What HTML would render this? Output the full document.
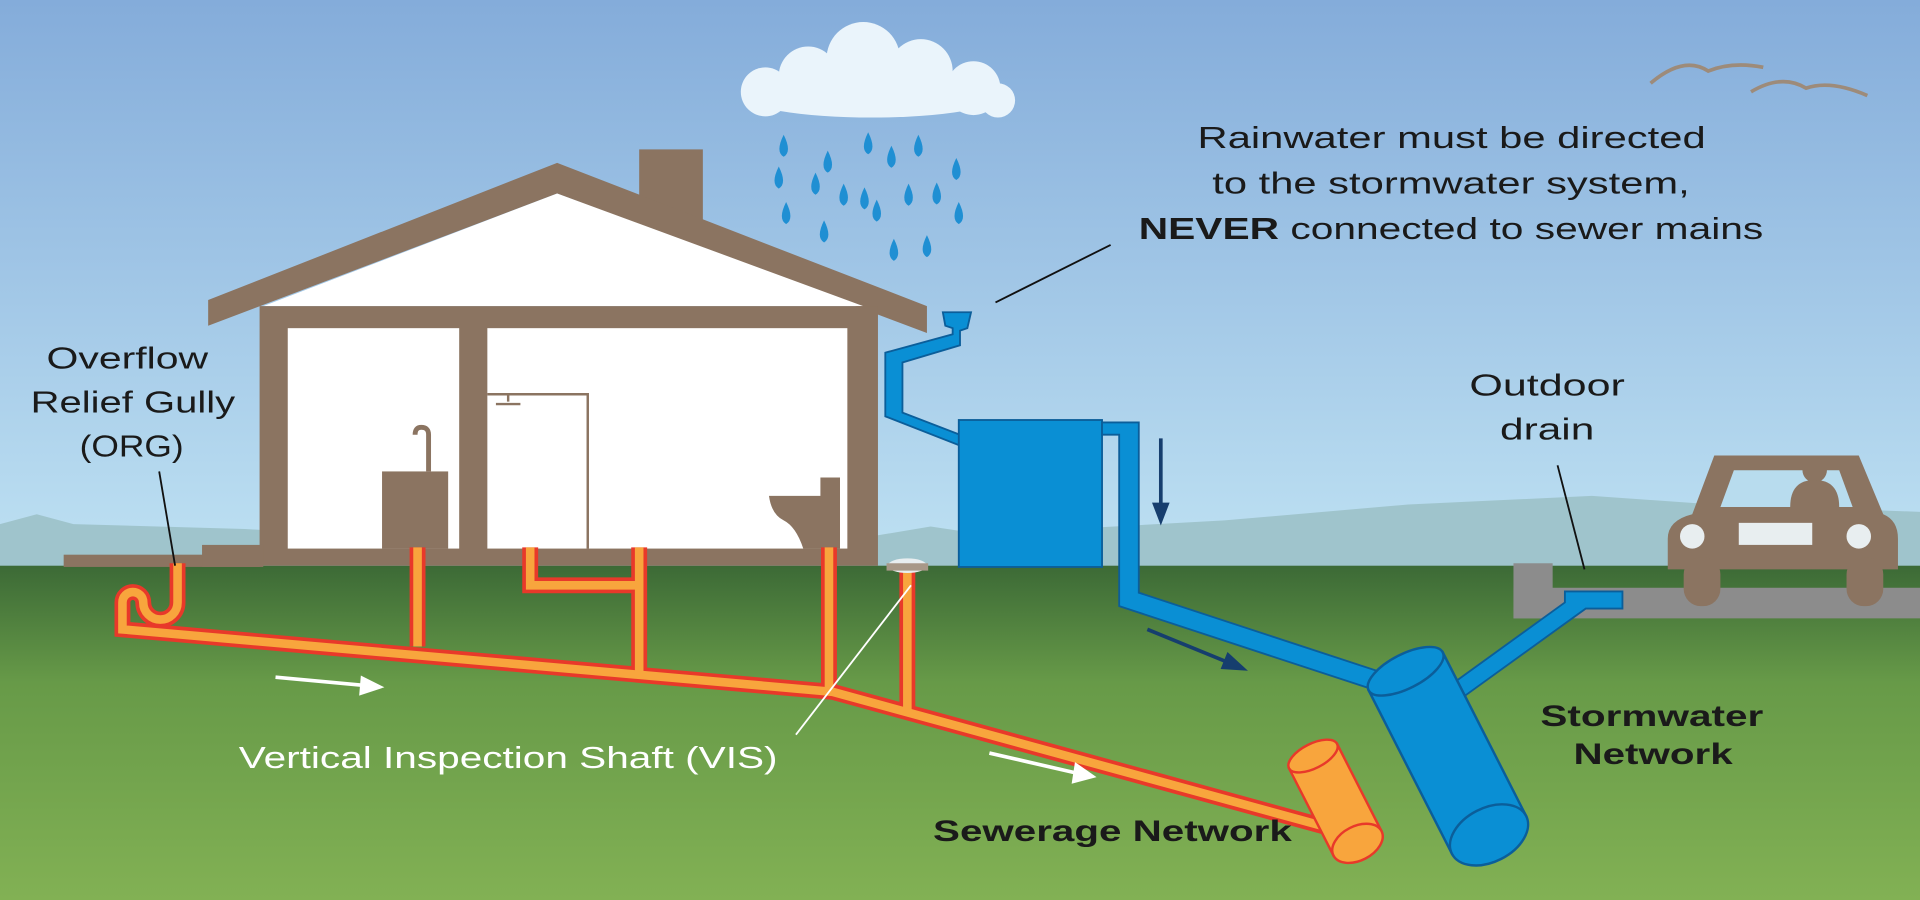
<!DOCTYPE html>
<html><head><meta charset="utf-8"><style>
html,body{margin:0;padding:0;width:1920px;height:900px;overflow:hidden}
svg{display:block}
text{font-family:"Liberation Sans",sans-serif}
</style></head><body>
<svg width="1920" height="900" viewBox="0 0 1568 735" preserveAspectRatio="none" xmlns="http://www.w3.org/2000/svg">
<defs>
<linearGradient id="sky" x1="0" y1="0" x2="0" y2="1"><stop offset="0" stop-color="#84acda"/><stop offset="1" stop-color="#bfe2f3"/></linearGradient>
<linearGradient id="grass" x1="0" y1="0" x2="0" y2="1"><stop offset="0" stop-color="#3c6a36"/><stop offset="0.35" stop-color="#679a48"/><stop offset="1" stop-color="#82b154"/></linearGradient>
</defs>
<rect width="1568" height="470" fill="url(#sky)"/>
<path d="M0 428 L30 420 L60 428 L200 432 L300 438 L700 440 L760 430 L800 436 L1000 425 L1150 412 L1300 405 L1400 412 L1568 418 L1568 470 L0 470Z" fill="#9fc4cc"/>
<rect y="462" width="1568" height="273" fill="url(#grass)"/>
<rect x="1236" y="480" width="332" height="25" fill="#8c8c8c"/>
<rect x="1236" y="460" width="32" height="45" fill="#8c8c8c"/>
<g fill="#eaf4fb"><ellipse cx="712" cy="78" rx="105" ry="18"/><circle cx="625" cy="75" r="20"/><circle cx="660" cy="62" r="24"/><circle cx="705" cy="48" r="30"/><circle cx="752" cy="58" r="26"/><circle cx="795" cy="72" r="22"/><circle cx="815" cy="82" r="14"/></g>
<g fill="#1f8fd3">
<path d="M640 217 q-7 14 0 18 q7 -4 0 -18z" transform="translate(0,-107)"/>
<path d="M676 230 q-7 14 0 18 q7 -4 0 -18z" transform="translate(0,-107)"/>
<path d="M709 215 q-7 14 0 18 q7 -4 0 -18z" transform="translate(0,-107)"/>
<path d="M750 217 q-7 14 0 18 q7 -4 0 -18z" transform="translate(0,-107)"/>
<path d="M781 236 q-7 14 0 18 q7 -4 0 -18z" transform="translate(0,-107)"/>
<path d="M636 270 q-7 14 0 18 q7 -4 0 -18z" transform="translate(0,-134)"/>
<path d="M666 275 q-7 14 0 18 q7 -4 0 -18z" transform="translate(0,-134)"/>
<path d="M728 253 q-7 14 0 18 q7 -4 0 -18z" transform="translate(0,-134)"/>
<path d="M765 283 q-7 14 0 18 q7 -4 0 -18z" transform="translate(0,-134)"/>
<path d="M706 287 q-7 14 0 18 q7 -4 0 -18z" transform="translate(0,-134)"/>
<path d="M689 150 q-7 14 0 18 q7 -4 0 -18z"/><path d="M742 150 q-7 14 0 18 q7 -4 0 -18z"/><path d="M642 165 q-7 14 0 18 q7 -4 0 -18z"/><path d="M716 163 q-7 14 0 18 q7 -4 0 -18z"/><path d="M783 165 q-7 14 0 18 q7 -4 0 -18z"/>
<path d="M673 180 q-7 14 0 18 q7 -4 0 -18z"/><path d="M730 195 q-7 14 0 18 q7 -4 0 -18z"/><path d="M757 192 q-7 14 0 18 q7 -4 0 -18z"/>
</g>
<g fill="none" stroke="#9d8b7a" stroke-width="3"><path d="M1348 68 Q1375 45 1395 58 Q1415 50 1440 55"/><path d="M1430 75 Q1455 60 1475 72 Q1495 65 1525 78"/></g>
<rect x="522" y="122" width="52" height="70" fill="#8b7461"/>
<path d="M455 133 L757 250 L757 272 L455 158 L170 266 L170 245Z" fill="#8b7461"/>
<path d="M455 158 L705 250 L215 250Z" fill="#fff"/>
<rect x="212" y="250" width="505" height="212" fill="#8b7461"/>
<rect x="235" y="268" width="140" height="180" fill="#fff"/>
<rect x="398" y="268" width="294" height="180" fill="#fff"/>
<rect x="52" y="453" width="160" height="10" fill="#8b7461"/>
<rect x="165" y="445" width="50" height="18" fill="#8b7461"/>
<rect x="312" y="385" width="54" height="63" fill="#8b7461"/>
<path d="M350 385 V355 q0 -6 -6 -6 q-5 0 -5 6" fill="none" stroke="#8b7461" stroke-width="4"/>
<path d="M398 322 H480 V448" fill="none" stroke="#8b7461" stroke-width="2"/>
<path d="M415 322 V328 M405 330 h20" stroke="#8b7461" stroke-width="2"/>
<path d="M628 405 H670 V390 H686 V448 H656 Q650 430 640 425 Q630 420 628 405Z" fill="#8b7461"/>
<g fill="#0a8fd4" stroke="#0b5e9a" stroke-width="1.5">
<path d="M770 255 H793 L790 268 L784 270 V282 L737 296 V337 L828 372 L820 378 L723 340 V288 L778 273 V268 L772 266Z"/>
<rect x="783" y="343" width="117" height="120"/>
<path d="M900 345 H930 V484 L1125 548 L1118 562 L914 495 V355 H900Z"/>
<path d="M1325 483 V497 H1295 L1180 580 L1170 570 L1278 492 V483Z"/>
</g>
<g transform="rotate(-27 1182 615)"><rect x="1148" y="540" width="68" height="150" fill="#0a8fd4" stroke="#0b5e9a" stroke-width="2"/><ellipse cx="1182" cy="540" rx="34" ry="14" fill="#0a8fd4" stroke="#0b5e9a" stroke-width="2"/><ellipse cx="1182" cy="690" rx="34" ry="22" fill="#0a8fd4" stroke="#0b5e9a" stroke-width="2"/></g>
<g fill="none" stroke-linejoin="miter">
<path d="M145 460 V492 A14 14 0 0 1 117 492 A8.5 8.5 0 0 0 100 492 V514 L680 565 L1100 680 M341 447 V528 M522 447 V548 M433 447 V478 H522 M677 447 V563 M741 466 V580" stroke="#e8392a" stroke-width="13"/>
<path d="M145 460 V492 A14 14 0 0 1 117 492 A8.5 8.5 0 0 0 100 492 V514 L680 565 L1100 680 M341 447 V528 M522 447 V548 M433 447 V478 H522 M677 447 V563 M741 466 V580" stroke="#f8a53d" stroke-width="7"/>
</g>
<g transform="rotate(-27 1095 662)"><rect x="1073" y="612" width="44" height="80" fill="#f8a53d" stroke="#e8392a" stroke-width="2"/><ellipse cx="1095" cy="612" rx="22" ry="10" fill="#f8a53d" stroke="#e8392a" stroke-width="2"/><ellipse cx="1095" cy="692" rx="22" ry="14" fill="#f8a53d" stroke="#e8392a" stroke-width="2"/></g>
<ellipse cx="741" cy="462" rx="16" ry="6" fill="#e8eef0"/><rect x="724" y="460" width="34" height="6" fill="#a89888"/>
<g fill="#8b7461">
<path d="M1382 420 L1400 372 H1518 L1538 420 Q1550 425 1550 440 V465 H1362 V440 Q1362 425 1382 420Z"/>
<rect x="1375" y="455" width="30" height="40" rx="14"/><rect x="1508" y="455" width="30" height="40" rx="14"/>
</g>
<path d="M1405 414 L1416 384 H1502 L1513 414Z" fill="#b8dcee"/>
<circle cx="1482" cy="384" r="10" fill="#8b7461"/><path d="M1462 414 q0 -22 20 -22 q20 0 20 22z" fill="#8b7461"/>
<circle cx="1382" cy="438" r="10" fill="#e8eef0"/><circle cx="1518" cy="438" r="10" fill="#e8eef0"/>
<rect x="1420" y="427" width="60" height="18" fill="#e8eef0"/>
<g stroke="#163e6e" stroke-width="3" fill="#163e6e">
<path d="M948 358 V418" fill="none"/><path d="M943 412 L948 425 L953 412Z"/>
<path d="M937 514 L1008 543" fill="none"/><path d="M1003 535 L1015 546 L999 545Z"/>
</g>
<g stroke="#fff" stroke-width="3" fill="#fff">
<path d="M225 553 L300 560" fill="none"/><path d="M296 554 L310 561 L295 566Z"/>
<path d="M808 615 L882 632" fill="none"/><path d="M879 625 L892 634 L877 638Z"/>
</g>
<g stroke="#111" stroke-width="1.5"><path d="M907 200 L813 247"/><path d="M130 385 L143 462"/><path d="M1272 380 L1294 465"/></g>
<path d="M744 478 L650 600" stroke="#fff" stroke-width="1.5"/>
<g font-size="25" fill="#1a1a1a" lengthAdjust="spacingAndGlyphs">
<text x="978" y="121" textLength="415" lengthAdjust="spacingAndGlyphs">Rainwater must be directed</text>
<text x="990" y="158" textLength="390" lengthAdjust="spacingAndGlyphs">to the stormwater system,</text>
<text x="930" y="195" textLength="510" lengthAdjust="spacingAndGlyphs"><tspan font-weight="bold">NEVER</tspan> connected to sewer mains</text>
<text x="38" y="301" textLength="132" lengthAdjust="spacingAndGlyphs">Overflow</text>
<text x="25" y="337" textLength="167" lengthAdjust="spacingAndGlyphs">Relief Gully</text>
<text x="65" y="373" textLength="85" lengthAdjust="spacingAndGlyphs">(ORG)</text>
<text x="1200" y="323" textLength="127" lengthAdjust="spacingAndGlyphs">Outdoor</text>
<text x="1225" y="359" textLength="77" lengthAdjust="spacingAndGlyphs">drain</text>
<text x="195" y="627" fill="#fff" textLength="440" lengthAdjust="spacingAndGlyphs">Vertical Inspection Shaft (VIS)</text>
</g>
<g font-size="24" font-weight="bold" fill="#1a1a1a">
<text x="1258" y="593" textLength="182" lengthAdjust="spacingAndGlyphs">Stormwater</text>
<text x="1285" y="624" textLength="130" lengthAdjust="spacingAndGlyphs">Network</text>
<text x="762" y="687" textLength="293" lengthAdjust="spacingAndGlyphs">Sewerage Network</text>
</g>
</svg>
</body></html>
